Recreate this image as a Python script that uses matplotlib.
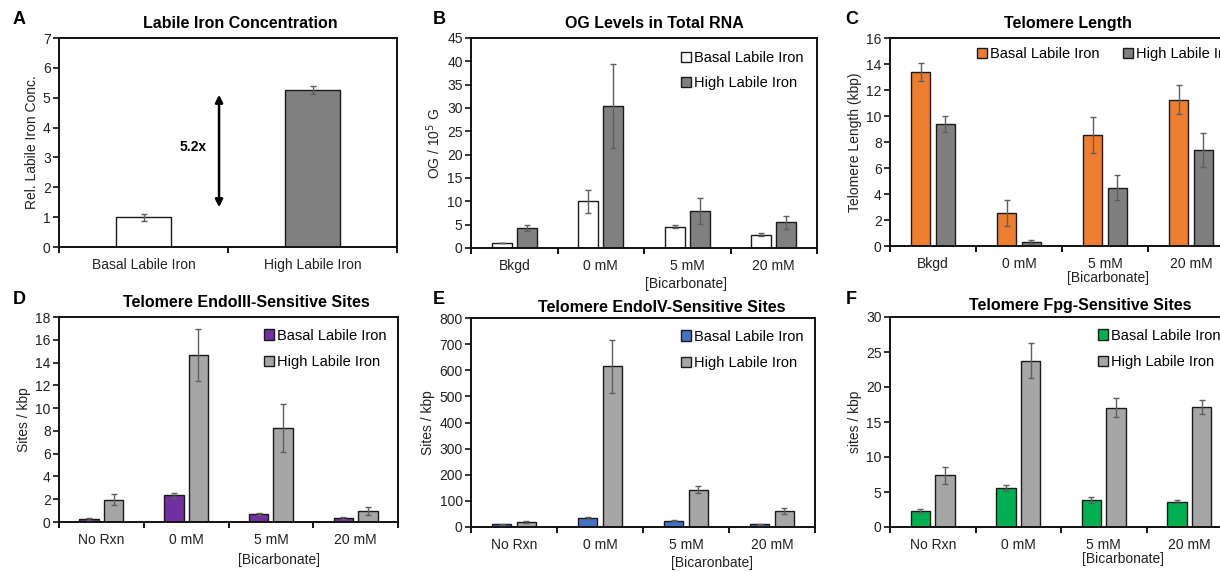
import numpy as np
import matplotlib
matplotlib.use('Agg')
import matplotlib.pyplot as plt

plt.rcParams['font.family'] = ['Liberation Sans', 'DejaVu Sans']

# --- data ---
a_labels = ['Basal Labile Iron', 'High Labile Iron']
a_vals = [1.0, 5.27]
a_err = [0.12, 0.13]

b_cats = ['Bkgd', '0 mM', '5 mM', '20 mM']
b_basal = [1.07, 10.0, 4.6, 2.85]
b_basal_err = [0.1, 2.5, 0.4, 0.3]
b_high = [4.3, 30.5, 8.0, 5.5]
b_high_err = [0.6, 9.0, 2.8, 1.4]

c_cats = ['Bkgd', '0 mM', '5 mM', '20 mM']
c_basal = [13.4, 2.51, 8.52, 11.26]
c_basal_err = [0.67, 1.0, 1.38, 1.13]
c_high = [9.37, 0.33, 4.5, 7.37]
c_high_err = [0.62, 0.15, 0.97, 1.33]

d_cats = ['No Rxn', '0 mM', '5 mM', '20 mM']
d_basal = [0.26, 2.35, 0.7, 0.35]
d_basal_err = [0.06, 0.2, 0.08, 0.07]
d_high = [1.97, 14.68, 8.24, 1.0]
d_high_err = [0.5, 2.3, 2.1, 0.35]

e_cats = ['No Rxn', '0 mM', '5 mM', '20 mM']
e_basal = [11, 34, 24, 11]
e_basal_err = [2, 3, 2, 2]
e_high = [19, 615, 143, 62]
e_high_err = [3, 102, 14, 11]

f_cats = ['No Rxn', '0 mM', '5 mM', '20 mM']
f_basal = [2.3, 5.6, 3.82, 3.6]
f_basal_err = [0.3, 0.4, 0.45, 0.2]
f_high = [7.4, 23.75, 17.06, 17.1]
f_high_err = [1.2, 2.5, 1.35, 1.0]

W, H = 1220, 571
fig = plt.figure(figsize=(W / 100, H / 100), dpi=100)


def box(l, t, r, b):
    return [l / W, 1 - b / H, (r - l) / W, (b - t) / H]


EDGE = '#1a1a1a'
ERRC = '#5f5f5f'


def style(ax, ncat, ymax, ystep):
    ax.set_xlim(-0.5, ncat - 0.5)
    ax.set_ylim(0, ymax)
    ax.set_yticks(np.arange(0, ymax + ystep / 2, ystep))
    ax.set_xticks(np.arange(ncat))
    ax.set_xticks(np.arange(ncat + 1) - 0.5, minor=True)
    ax.tick_params(axis='x', which='major', length=0, labelsize=10, pad=8, colors='#222222')
    ax.tick_params(axis='x', which='minor', length=4, width=1.3, direction='out')
    ax.tick_params(axis='y', length=4, width=1.3, direction='out', labelsize=10, pad=2, colors='#222222')
    for s in ax.spines.values():
        s.set_linewidth(1.4)
        s.set_color('#111111')


def grouped(pos, cats, basal, berr, high, herr, c1, c2, ymax, ystep, ylabel, title,
            xlabel, legend_kw, xlab_pos, title_xy):
    ax = fig.add_axes(box(*pos))
    x = np.arange(len(cats))
    w = 0.23
    ax.bar(x - 0.145, basal, w, color=c1, edgecolor=EDGE, linewidth=1.0, label='Basal Labile Iron', zorder=2)
    ax.bar(x + 0.145, high, w, color=c2, edgecolor=EDGE, linewidth=1.0, label='High Labile Iron', zorder=2)
    ax.errorbar(x - 0.145, basal, yerr=berr, fmt='none', ecolor=ERRC, elinewidth=1.0, capsize=2, zorder=3)
    ax.errorbar(x + 0.145, high, yerr=herr, fmt='none', ecolor=ERRC, elinewidth=1.0, capsize=2, zorder=3)
    style(ax, len(cats), ymax, ystep)
    ax.set_xticklabels(cats)
    ax.set_ylabel(ylabel, fontsize=10, labelpad=3, color='#222222')
    ax.text(title_xy[0], title_xy[1], title, transform=ax.transAxes, ha='center', va='center',
            fontsize=11.5, fontweight='bold')
    ax.legend(frameon=False, fontsize=10.5, handlelength=0.7, handleheight=0.7,
              handletextpad=0.2, **legend_kw)
    ax.text(xlab_pos[0], xlab_pos[1], xlabel,
            transform=ax.transAxes, ha='center', va='center', fontsize=10, color='#222222')
    return ax


# panel A
axA = fig.add_axes(box(59, 38, 397, 247))
xa = np.arange(2)
axA.bar(xa, a_vals, 0.32, color=['white', '#808080'], edgecolor=EDGE, linewidth=1.0, zorder=2)
axA.errorbar(xa, a_vals, yerr=a_err, fmt='none', ecolor=ERRC, elinewidth=1.0, capsize=2, zorder=3)
style(axA, 2, 7, 1)
axA.set_xticklabels(a_labels)
axA.set_ylabel('Rel. Labile Iron Conc.', fontsize=10, labelpad=3, color='#222222')
axA.text(0.535, 1.067, 'Labile Iron Concentration', transform=axA.transAxes, ha='center', va='center',
         fontsize=11.5, fontweight='bold')
axA.annotate('', xy=(0.447, 5.1), xytext=(0.447, 1.33),
             arrowprops=dict(arrowstyle='<|-|>', color='black', lw=1.8, mutation_scale=11,
                             shrinkA=0, shrinkB=0))
axA.text(0.293, 3.35, '5.2x', ha='center', va='center', fontsize=10, fontweight='bold')

grouped((471, 38, 817, 248), b_cats, b_basal, b_basal_err, b_high, b_high_err,
        'white', '#808080', 45, 5, 'OG / 10$^5$ G', 'OG Levels in Total RNA', '[Bicarbonate]',
        dict(loc='upper right', labelspacing=0.75, borderaxespad=0.5), (0.62, -0.17), (0.53, 1.067))

grouped((890, 38, 1234, 246), c_cats, c_basal, c_basal_err, c_high, c_high_err,
        '#ED7D31', '#7F7F7F', 16, 2, 'Telomere Length (kbp)', 'Telomere Length', '[Bicarbonate]',
        dict(loc='upper left', ncol=2, columnspacing=1.6, borderaxespad=0,
             bbox_to_anchor=((971 - 890) / 344, 0.985)), (0.635, -0.155), (0.517, 1.072))

grouped((59, 317, 398, 522), d_cats, d_basal, d_basal_err, d_high, d_high_err,
        '#7030A0', '#A6A6A6', 18, 2, 'Sites / kbp', 'Telomere EndoIII-Sensitive Sites', '[Bicarbonate]',
        dict(loc='upper right', labelspacing=0.85, borderaxespad=0.4), (0.65, -0.185), (0.552, 1.073))

grouped((471, 318, 815, 527), e_cats, e_basal, e_basal_err, e_high, e_high_err,
        '#4472C4', '#A6A6A6', 800, 100, 'Sites / kbp', 'Telomere EndoIV-Sensitive Sites', '[Bicaronbate]',
        dict(loc='upper right', labelspacing=0.85, borderaxespad=0.4), (0.7, -0.17), (0.555, 1.048))

grouped((890, 317, 1232, 527), f_cats, f_basal, f_basal_err, f_high, f_high_err,
        '#00B050', '#A6A6A6', 30, 5, 'sites / kbp', 'Telomere Fpg-Sensitive Sites', '[Bicarbonate]',
        dict(loc='upper right', labelspacing=0.85, borderaxespad=0.4), (0.68, -0.15), (0.555, 1.053))

# panel letters
for lt, (px, py) in zip('ABCDEF', [(19, 20), (439, 20), (852, 20), (19, 299), (439, 299), (851, 299)]):
    fig.text(px / W, 1 - py / H, lt, fontsize=13, fontweight='bold', ha='center', va='center')

fig.savefig('out.png', dpi=100, facecolor='white')
